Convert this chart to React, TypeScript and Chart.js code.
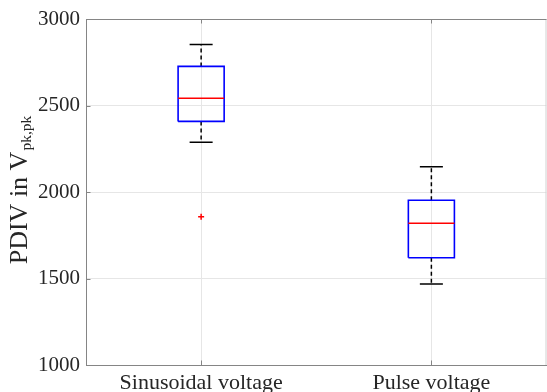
import React, { useEffect, useRef } from 'react';
import { Chart, registerables } from 'chart.js';

Chart.register(...registerables);

const categories = ['Sinusoidal voltage', 'Pulse voltage'];
const upperWhisker = [2852, 2146];
const q3Values = [2726, 1952];
const medianValues = [2542, 1819];
const q1Values = [2408, 1620];
const lowerWhisker = [2288, 1468];
const outlierValues: number[][] = [[1857], []];
const yTicks = [1000, 1500, 2000, 2500, 3000];

const BOX_HALF = 0.1;
const CAP_HALF = 0.05;
const FONT = '"Liberation Serif", "Times New Roman", serif';
const TEXT = '#262626';
const AXIS = '#858585';
const GRID = '#e6e6e6';

type P = { x: number; y: number | null };

function buildData() {
  const box: P[] = [];
  const med: P[] = [];
  const whisk: P[] = [];
  const caps: P[] = [];
  const outs: P[] = [];
  categories.forEach((_, i) => {
    const c = i + 1;
    box.push(
      { x: c - BOX_HALF, y: q1Values[i] },
      { x: c + BOX_HALF, y: q1Values[i] },
      { x: c + BOX_HALF, y: q3Values[i] },
      { x: c - BOX_HALF, y: q3Values[i] },
      { x: c - BOX_HALF, y: q1Values[i] },
      { x: c, y: null }
    );
    med.push({ x: c - BOX_HALF, y: medianValues[i] }, { x: c + BOX_HALF, y: medianValues[i] }, { x: c, y: null });
    whisk.push(
      { x: c, y: q3Values[i] },
      { x: c, y: upperWhisker[i] },
      { x: c, y: null },
      { x: c, y: q1Values[i] },
      { x: c, y: lowerWhisker[i] },
      { x: c, y: null }
    );
    caps.push(
      { x: c - CAP_HALF, y: upperWhisker[i] },
      { x: c + CAP_HALF, y: upperWhisker[i] },
      { x: c, y: null },
      { x: c - CAP_HALF, y: lowerWhisker[i] },
      { x: c + CAP_HALF, y: lowerWhisker[i] },
      { x: c, y: null }
    );
    outlierValues[i].forEach((v) => outs.push({ x: c, y: v }));
  });
  return { box, med, whisk, caps, outs };
}

const framePlugin = {
  id: 'matlabFrame',
  afterDraw(chart: any) {
    const { ctx, chartArea: a, scales } = chart;
    ctx.save();
    ctx.lineWidth = 1;
    ctx.strokeStyle = '#d0d0d0';
    ctx.beginPath();
    ctx.moveTo(a.right - 0.5, a.top);
    ctx.lineTo(a.right - 0.5, a.bottom);
    ctx.stroke();
    ctx.strokeStyle = AXIS;
    ctx.beginPath();
    ctx.moveTo(a.left, a.top + 0.5);
    ctx.lineTo(a.right, a.top + 0.5);
    // inward ticks
    const tl = 4.5;
    yTicks.forEach((v) => {
      const y = Math.round(scales.y.getPixelForValue(v)) + 0.5;
      ctx.moveTo(a.left, y);
      ctx.lineTo(a.left + tl, y);
    });
    categories.forEach((_, i) => {
      const x = Math.round(scales.x.getPixelForValue(i + 1)) + 0.5;
      ctx.moveTo(x, a.bottom);
      ctx.lineTo(x, a.bottom - tl);
      ctx.moveTo(x, a.top);
      ctx.lineTo(x, a.top + tl);
    });
    ctx.stroke();

    // y-axis title with subscript
    const main = 'PDIV in V';
    const sub = 'pk,pk';
    const mainFont = `26px ${FONT}`;
    const subFont = `15.5px ${FONT}`;
    ctx.font = mainFont;
    const wMain = ctx.measureText(main).width;
    ctx.font = subFont;
    const wSub = ctx.measureText(sub).width;
    const total = wMain + 1 + wSub;
    const cy = (a.top + a.bottom) / 2 - 2;
    ctx.translate(27, cy + total / 2);
    ctx.rotate(-Math.PI / 2);
    ctx.fillStyle = TEXT;
    ctx.textAlign = 'left';
    ctx.textBaseline = 'alphabetic';
    ctx.font = mainFont;
    ctx.fillText(main, 0, 0);
    ctx.font = subFont;
    ctx.fillText(sub, wMain + 1, 3.5);
    ctx.restore();
  },
};

export default function App() {
  const ref = useRef<HTMLCanvasElement | null>(null);

  useEffect(() => {
    document.body.style.margin = '0';
    document.body.style.overflow = 'hidden';
    document.documentElement.style.overflow = 'hidden';
    if (!ref.current) return;
    const d = buildData();
    const chart = new Chart(ref.current, {
      type: 'scatter',
      data: {
        datasets: [
          {
            data: d.outs as any,
            showLine: false,
            pointStyle: 'cross',
            pointRadius: 3,
            borderColor: '#ff0000',
            backgroundColor: '#ff0000',
            borderWidth: 1.5,
            order: 0,
          },
          {
            data: d.med as any,
            showLine: true,
            pointRadius: 0,
            borderColor: '#ff0000',
            borderWidth: 1.5,
            spanGaps: false,
            order: 1,
          },
          {
            data: d.box as any,
            showLine: true,
            pointRadius: 0,
            borderColor: '#0000ff',
            borderWidth: 1.6,
            spanGaps: false,
            order: 2,
          },
          {
            data: d.caps as any,
            showLine: true,
            pointRadius: 0,
            borderColor: '#000000',
            borderWidth: 1.5,
            spanGaps: false,
            order: 3,
          },
          {
            data: d.whisk as any,
            showLine: true,
            pointRadius: 0,
            borderColor: '#000000',
            borderWidth: 1.5,
            borderDash: [4, 3],
            spanGaps: false,
            order: 4,
          },
        ],
      },
      options: {
        animation: false,
        responsive: false,
        events: [],
        layout: { padding: { top: 19, right: 5.5, left: 0, bottom: 0 } },
        plugins: { legend: { display: false }, tooltip: { enabled: false } },
        scales: {
          x: {
            type: 'linear',
            min: 0.5,
            max: 2.5,
            afterBuildTicks: (s: any) => {
              s.ticks = categories.map((_, i) => ({ value: i + 1 }));
            },
            afterFit: (s: any) => {
              s.height = 35;
            },
            ticks: {
              callback: (v: any) => categories[Math.round(Number(v)) - 1] ?? '',
              font: { family: FONT, size: 22 },
              color: TEXT,
              padding: 5,
              maxRotation: 0,
              autoSkip: false,
            },
            grid: { color: GRID, drawTicks: false },
            border: { color: AXIS },
          },
          y: {
            type: 'linear',
            min: 1000,
            max: 3000,
            afterBuildTicks: (s: any) => {
              s.ticks = yTicks.map((v) => ({ value: v }));
            },
            afterFit: (s: any) => {
              s.width = 86;
            },
            ticks: {
              callback: (v: any) => String(v),
              font: { family: FONT, size: 21 },
              color: TEXT,
              padding: 6,
            },
            grid: { color: GRID, drawTicks: false },
            border: { color: AXIS },
          },
        },
      },
      plugins: [framePlugin],
    });
    return () => chart.destroy();
  }, []);

  return (
    <div style={{ position: 'relative', width: 552, height: 400 }}>
      <canvas ref={ref} width={552} height={400} style={{ display: 'block', width: 552, height: 400 }} />
    </div>
  );
}
